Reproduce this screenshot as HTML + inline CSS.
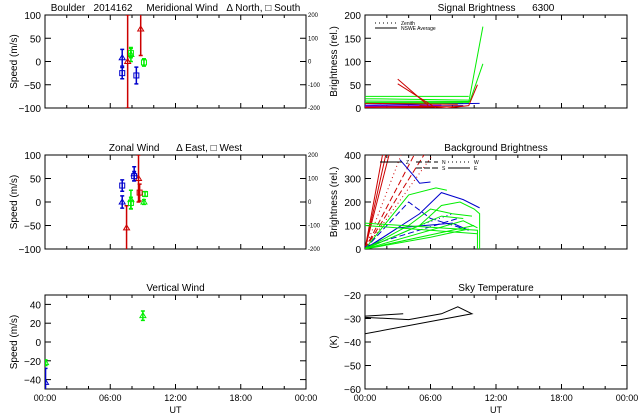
<!DOCTYPE html>
<html><head><meta charset="utf-8"><style>
body{margin:0;background:#fff;width:640px;height:420px;overflow:hidden}
svg{display:block}
text{font-family:"Liberation Sans","DejaVu Sans",sans-serif;fill:#000;white-space:pre}
</style></head><body>
<svg id="c" width="640" height="420"></svg>
<script>
// ---- data ----
const xTickLabels=["00:00","06:00","12:00","18:00","00:00"];
const merNorthT=[7.1,7.9,8.8,7.6];
const merNorthV=[8,15,70,0];
const merNorthE=[18,15,57,100];
const merNorthC=["#00c","#0e0","#c00","#c00"];
const merSouthT=[7.1,8.4,9.1,7.9];
const merSouthV=[-25,-30,-2,18];
const merSouthE=[12,18,8,10];
const merSouthC=["#00c","#00c","#0e0","#0e0"];
const zonEastT=[7.1,8.2,7.9,9.1,8.6,7.5];
const zonEastV=[0,60,5,0,50,-55];
const zonEastE=[13,15,20,5,50,47];
const zonEastC=["#00c","#00c","#0e0","#0e0","#c00","#c00"];
const zonWestT=[7.1,8.2,7.9,9.2,8.7];
const zonWestV=[35,55,-2,17,20];
const zonWestE=[12,10,12,5,18];
const zonWestC=["#00c","#00c","#0e0","#0e0","#c00"];
const vertT=[9.0,0.05,0.05];
const vertV=[28,-22,-43];
const vertE=[5,3,15];
const vertC=["#0e0","#0e0","#00c"];
const sigLines=[
 {c:"#0e0",t:[0,9.5],v:[25,25]},{c:"#0e0",t:[0,9.5],v:[20,17]},{c:"#0e0",t:[0,9.5,10.8],v:[12,12,175]},
 {c:"#0e0",t:[0,9.6,10.8],v:[15,14,95]},{c:"#0e0",t:[0,9.0],v:[10,10]},
 {c:"#00c",t:[0,10.5],v:[6,10]},{c:"#00c",t:[0,9],v:[3,5]},{c:"#80f",t:[0,7],v:[4,6]},
 {c:"#c00",t:[3.0,5.8],v:[62,5]},{c:"#c00",t:[3.0,6.5],v:[52,0]},{c:"#c00",t:[0,8.5],v:[10,8]},
 {c:"#c00",t:[0,9],v:[2,4]},{c:"#c00",t:[5,7.5,9.5,10.3],v:[5,0,5,50]},{c:"#c00",t:[0,6.5],v:[0,2]}];
const bgLines=[
 {c:"#c00",t:[0,1.6],v:[0,400]},{c:"#c00",t:[0,1.9],v:[0,400]},{c:"#c00",t:[0,2.2],v:[0,400]},
 {c:"#c00",t:[0,4.5],v:[0,400],d:"6,3"},{c:"#c00",t:[0,5.4],v:[0,400],d:"6,3"},{c:"#c00",t:[0,6.2],v:[0,400],d:"1,3"},
 {c:"#c00",t:[0,3.3],v:[0,400],d:"1,3"},
 {c:"#00c",t:[3.2,4.5,5.0,6.0],v:[380,310,280,285]},{c:"#00c",t:[0,5,7,9,10.5],v:[0,150,240,210,175]},
 {c:"#00c",t:[0,4,6,9.5],v:[0,200,130,80],d:"6,3"},{c:"#00c",t:[0,3,8,9.5],v:[0,90,110,80]},
 {c:"#00c",t:[0,5,8],v:[0,100,150],d:"1,3"},{c:"#00c",t:[0,8.5],v:[10,130],d:"6,3"},
 {c:"#0e0",t:[0,4,6.5,7.5],v:[0,230,260,250]},{c:"#0e0",t:[0,5,7,8.7,10,10.5,10.5],v:[0,100,185,200,170,150,0]},
 {c:"#0e0",t:[0,4,6,8,9.8],v:[0,100,170,150,140]},{c:"#0e0",t:[0,10.3,10.3],v:[110,80,0]},
 {c:"#0e0",t:[0,10.3],v:[100,65]},{c:"#0e0",t:[0,9,10.3],v:[0,120,90]},{c:"#0e0",t:[0,10],v:[0,100]},
 {c:"#0e0",t:[0,6,9.5],v:[0,50,85]},{c:"#0e0",t:[0,7,9],v:[0,140,130]}];
const skyLines=[{t:[0,3.5],v:[-29,-28]},{t:[0,4,7,8.5,9.8,0],v:[-29.5,-30.5,-28,-25,-28,-36.5]}];

// ---- helpers ----
const S=document.getElementById('c');const NS="http://www.w3.org/2000/svg";
function mk(tag,at,parent){const e=document.createElementNS(NS,tag);for(const k in at)e.setAttribute(k,at[k]);(parent||S).appendChild(e);return e;}
function panel(name,x0,x1,y0,y1,ymin,ymax,yt,title,ylab,right,xlabels){
 const g=mk('g',{});
 
 
 const P={x:t=>x0+t/24*(x1-x0),y:v=>y1-(v-ymin)/(ymax-ymin)*(y1-y0),g:g};
 mk('rect',{x:x0,y:y0,width:x1-x0,height:y1-y0,fill:'none',stroke:'#000','stroke-width':1},g);
 for(let h=0;h<=24;h+=2){const X=P.x(h),L=h%6==0?5:3;
  mk('line',{x1:X,x2:X,y1:y1,y2:y1-L,stroke:'#000'},g);mk('line',{x1:X,x2:X,y1:y0,y2:y0+L,stroke:'#000'},g);}
 yt.forEach(v=>{const Y=P.y(v);mk('line',{x1:x0,x2:x0+6,y1:Y,y2:Y,stroke:'#000'},g);mk('line',{x1:x1,x2:x1-6,y1:Y,y2:Y,stroke:'#000'},g);
  const t=mk('text',{x:x0-4,y:Y+4,'text-anchor':'end','font-size':10},g);t.textContent=(v<0?'−':'')+Math.abs(v);
  if(right){const r=mk('text',{x:x1+2,y:Y+2,'font-size':6},g);r.textContent=String(v*2);}});
 const tt=mk('text',{x:(x0+x1)/2,y:y0-4,'text-anchor':'middle','font-size':10},g);tt.textContent=title;
 const yl=mk('text',{x:x0-28,y:(y0+y1)/2,'text-anchor':'middle','font-size':10,transform:`rotate(-90 ${x0-28} ${(y0+y1)/2})`},g);yl.textContent=ylab;
 if(xlabels){xTickLabels.forEach((l,i)=>{const t=mk('text',{x:P.x(i*6),y:y1+12,'text-anchor':'middle','font-size':9},g);t.textContent=l;});
  const u=mk('text',{x:(x0+x1)/2,y:y1+24,'text-anchor':'middle','font-size':9},g);u.textContent='UT';}
 const cp='cp'+name;const cl=mk('clipPath',{id:cp},S);mk('rect',{x:x0,y:y0,width:x1-x0,height:y1-y0},cl);
 P.d=mk('g',{'clip-path':`url(#${cp})`},g);
 return P;}
function errs(P,T,V,E,C,sym,nm){T.forEach((t,i)=>{const X=P.x(t),Y=P.y(V[i]),Ya=P.y(V[i]+E[i]),Yb=P.y(V[i]-E[i]);
 const l=mk('path',{d:`M${X} ${Ya}V${Yb}M${X-2} ${Ya}h4M${X-2} ${Yb}h4`,stroke:C[i],'stroke-width':1.5,fill:'none'},P.d);
 
 
 const m=sym=='tri'?mk('path',{d:`M${X} ${Y-3}l3 5h-6z`,fill:'none',stroke:C[i]},P.d):mk('rect',{x:X-2.5,y:Y-2.5,width:5,height:5,fill:'none',stroke:C[i]},P.d);
 
 });}
function lines(P,L,nm){L.forEach(s=>{const p=mk('polyline',{points:s.t.map((t,i)=>P.x(t)+','+P.y(s.v[i])).join(' '),fill:'none',stroke:s.c||'#000','stroke-width':1,'stroke-dasharray':s.d||'none'},P.d);
 
 });}

// ---- panels ----
const p1=panel('meridional-wind-panel',45,306,15,108,-100,100,[-100,-50,0,50,100],'Boulder   2014162     Meridional Wind   Δ North, □ South','Speed (m/s)',true,false);
errs(p1,merNorthT,merNorthV,merNorthE,merNorthC,'tri','meridional-north');
errs(p1,merSouthT,merSouthV,merSouthE,merSouthC,'sq','meridional-south');
const p2=panel('zonal-wind-panel',45,306,155,249,-100,100,[-100,-50,0,50,100],'Zonal Wind      Δ East, □ West','Speed (m/s)',true,false);
errs(p2,zonEastT,zonEastV,zonEastE,zonEastC,'tri','zonal-east');
errs(p2,zonWestT,zonWestV,zonWestE,zonWestC,'sq','zonal-west');
const p3=panel('vertical-wind-panel',45,306,295,389,-50,50,[-40,-20,0,20,40],'Vertical Wind','Speed (m/s)',false,true);
errs(p3,vertT,vertV,vertE,vertC,'tri','vertical');
const p4=panel('signal-brightness-panel',365,627,15,108,0,200,[0,50,100,150,200],'Signal Brightness      6300','Brightness (rel.)',false,false);
lines(p4,sigLines,'signal-line');
const p5=panel('background-brightness-panel',365,627,155,249,0,400,[0,100,200,300,400],'Background Brightness','Brightness (rel.)',false,false);
lines(p5,bgLines,'background-line');
const p6=panel('sky-temperature-panel',365,627,295,389,-60,-20,[-60,-50,-40,-30,-20],'Sky Temperature','(K)',false,true);
lines(p6,skyLines,'sky-temp-line');
// legends
function lg(x,y,dash,label,nm){const g=mk('g',{});
 
 
 mk('line',{x1:x,x2:x+22,y1:y,y2:y,stroke:'#000','stroke-dasharray':dash},g);
 const t=mk('text',{x:x+26,y:y+2,'font-size':5},g);t.textContent=label;}
lg(375,23,'1,3','Zenith','legend-zenith');lg(375,28,'none','NSWE Average','legend-nswe');
lg(380,162,'none','Z','legend-z');lg(416,162,'6,3','N','legend-n');lg(416,168,'6,2','S','legend-s');lg(448,162,'1,3','W','legend-w');lg(448,168,'none','E','legend-e');
</script></body></html>
